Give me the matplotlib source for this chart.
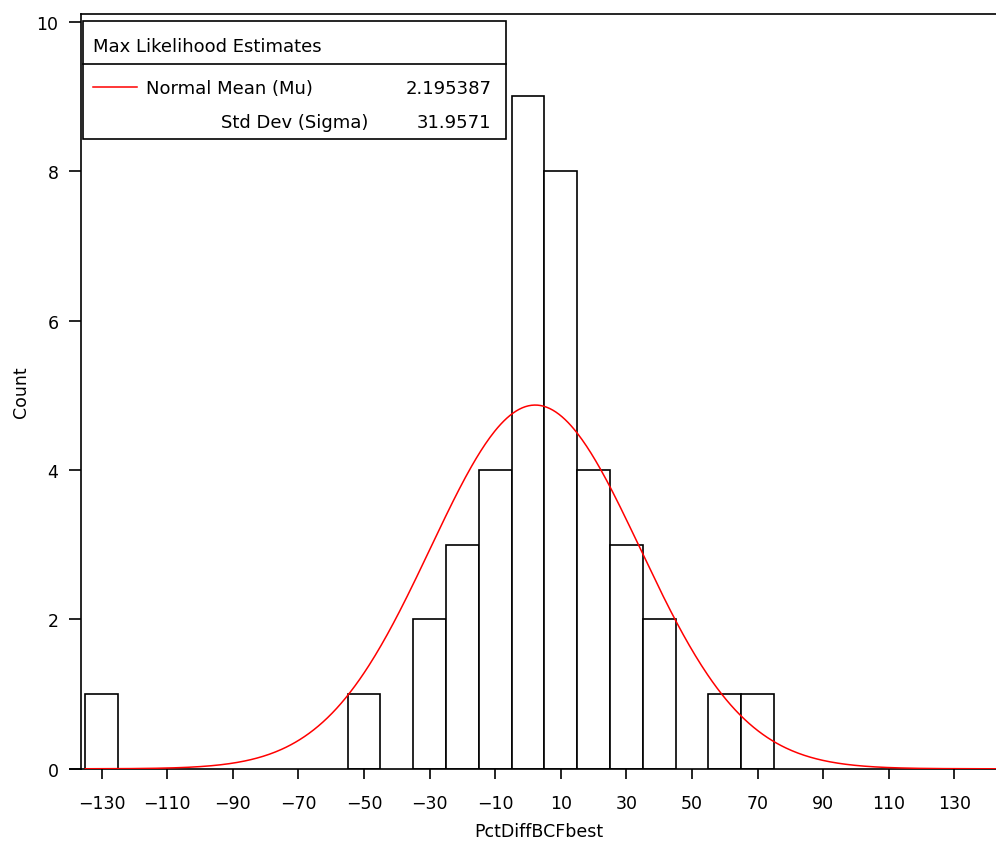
import numpy as np
import matplotlib.pyplot as plt
import matplotlib.transforms as mtransforms

# histogram data (bin midpoints, bin width 10)
bin_mids = [-130, -50, -30, -20, -10, 0, 10, 20, 30, 40, 60, 70]
counts   = [1, 1, 2, 3, 4, 9, 8, 4, 3, 2, 1, 1]
bin_width = 10

mu    = 2.195387
sigma = 31.9571

x_ticks = list(range(-130, 131, 20))
y_ticks = [0, 2, 4, 6, 8, 10]

plt.rcParams['font.family'] = ['DejaVu Sans']

fig = plt.figure(figsize=(9.96, 8.45), dpi=100)
ax = fig.add_axes([0.081, 0.089, 0.919, 0.893])

ax.bar(bin_mids, counts, width=bin_width, facecolor="white",
       edgecolor="black", linewidth=1.2, zorder=2)

# fitted normal curve, scaled to counts
n = sum(counts)
xs = np.linspace(-135, 145, 600)
ys = n * bin_width * np.exp(-0.5 * ((xs - mu) / sigma) ** 2) / (sigma * np.sqrt(2 * np.pi))
ax.plot(xs, ys, color="red", lw=1.1, zorder=3)

ax.set_xlim(-136.4, 142.7)
ax.set_ylim(0, 10.1)
ax.set_xticks(x_ticks)
ax.set_xticklabels([f"\u2212{abs(t)}" if t < 0 else str(t) for t in x_ticks])
ax.set_yticks(y_ticks)

ax.spines["right"].set_visible(False)
for s in ["left", "top", "bottom"]:
    ax.spines[s].set_linewidth(1.2)

# x axis line pokes a bit left of the y axis
trans = mtransforms.blended_transform_factory(ax.transAxes, ax.transData)
ax.plot([-0.012, 0], [0, 0], color="black", lw=1.2, transform=trans, clip_on=False)

ax.tick_params(axis="x", length=7, width=1.2, pad=11, labelsize=12.5)
ax.tick_params(axis="y", length=9, width=1.2, pad=7, labelsize=12.5)

ax.set_xlabel("PctDiffBCFbest", fontsize=12.5, labelpad=7)
ax.set_ylabel("Count", fontsize=12.5, labelpad=5)

# parameter box
bx0, bx1 = 0.003, 0.465
by0, by1 = 0.834, 0.9907
box = plt.Rectangle((bx0, by0), bx1 - bx0, by1 - by0, transform=ax.transAxes,
                    facecolor="white", edgecolor="black", lw=1.2, zorder=5)
ax.add_patch(box)
ysep = 0.934
ax.plot([bx0, bx1], [ysep, ysep], color="black", lw=1.2, transform=ax.transAxes, zorder=6)
ax.text(0.013, 0.9576, "Max Likelihood Estimates", transform=ax.transAxes,
        fontsize=13, va="center", zorder=6)
ax.plot([0.014, 0.061], [0.904, 0.904], color="red", lw=1.1, transform=ax.transAxes, zorder=6)
ax.text(0.071, 0.902, "Normal Mean (Mu)", transform=ax.transAxes,
        fontsize=13, va="center", zorder=6)
ax.text(0.449, 0.902, f"{mu:.6f}", transform=ax.transAxes,
        fontsize=13, va="center", ha="right", zorder=6)
ax.text(0.153, 0.857, "Std Dev (Sigma)", transform=ax.transAxes,
        fontsize=13, va="center", zorder=6)
ax.text(0.449, 0.857, f"{sigma:.4f}", transform=ax.transAxes,
        fontsize=13, va="center", ha="right", zorder=6)

fig.savefig("out.png", dpi=100)
